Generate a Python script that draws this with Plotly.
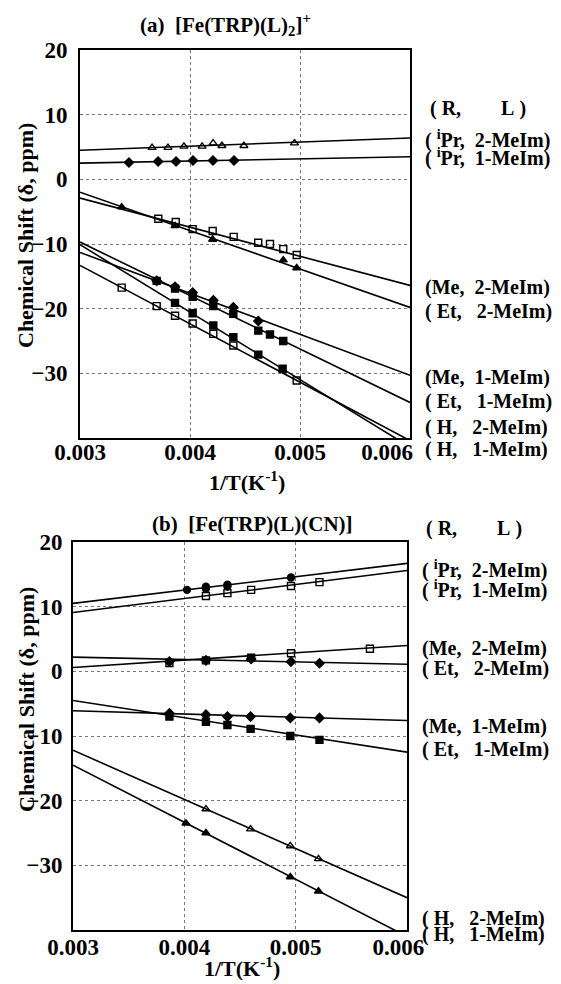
import plotly.graph_objects as go

# The page shows the figure with the browser's default 8px body margin,
# so the figure is made 8px smaller and reference pixels are shifted by 8.
OFF = 8
W, H = 561 - OFF, 984 - OFF
FONT = "Liberation Serif"

# ---------------- Panel (a): [Fe(TRP)(L)2]+ ----------------
a_labels = ["(\u00a0<sup>i</sup>Pr,\u00a0\u00a02-MeIm)", "(\u00a0<sup>i</sup>Pr,\u00a0\u00a01-MeIm)",
            "(Me,\u00a0\u00a02-MeIm)", "(\u00a0Et,\u00a0\u00a0\u00a02-MeIm)",
            "(Me,\u00a0\u00a01-MeIm)", "(\u00a0Et,\u00a0\u00a0\u00a01-MeIm)",
            "(\u00a0H,\u00a0\u00a0\u00a02-MeIm)", "(\u00a0H,\u00a0\u00a0\u00a01-MeIm)"]

a_iPr2_x = [0.003655, 0.00380, 0.003945, 0.00411, 0.00421, 0.00429, 0.00449, 0.00495]
a_iPr2_y = [4.9, 4.9, 5.1, 5.1, 5.6, 5.2, 5.2, 5.6]
a_iPr1_x = [0.003445, 0.00371, 0.003873, 0.004027, 0.004209, 0.00440]
a_iPr1_y = [2.6, 2.75, 2.75, 2.9, 2.9, 2.9]
a_Me2_x = [0.003712, 0.00387, 0.004024, 0.004206, 0.004397, 0.00462, 0.004727, 0.004848, 0.00497]
a_Me2_y = [-6.1, -6.6, -7.7, -8.0, -8.9, -9.8, -10.0, -10.8, -11.7]
a_Et2_x = [0.003379, 0.003864, 0.004206, 0.004848, 0.00497]
a_Et2_y = [-4.3, -7.2, -9.3, -12.5, -13.7]
a_Me1_x = [0.003697, 0.003864, 0.004024, 0.004212, 0.004394, 0.004621]
a_Me1_y = [-15.7, -16.6, -17.5, -18.7, -19.8, -21.9]
a_Et1_x = [0.003697, 0.003864, 0.004024, 0.004212, 0.004394, 0.004621, 0.004727, 0.004848]
a_Et1_y = [-15.7, -16.9, -18.15, -19.6, -20.8, -23.4, -24.0, -25.0]
a_H2_x = [0.003864, 0.004024, 0.004212, 0.004394, 0.004621, 0.004842]
a_H2_y = [-19.1, -20.7, -22.6, -24.4, -27.1, -29.3]
a_H1_x = [0.003379, 0.003697, 0.003864, 0.004024, 0.004212, 0.004394, 0.00497]
a_H1_y = [-16.75, -19.6, -21.1, -22.3, -23.9, -25.7, -31.1]

# fitted straight lines: value at x = 0.003 and at x = 0.006
fit_x = [0.003, 0.006]
a_fit_y0 = [4.5, 2.5, -2.9, -2.0, -11.3, -9.7, -10.1, -13.3]
a_fit_y1 = [6.4, 3.5, -16.4, -19.8, -30.3, -34.5, -41.4, -40.4]

# ---------------- Panel (b): [Fe(TRP)(L)(CN)] ----------------
b_iPr2_x = [0.004024, 0.004194, 0.004194, 0.004387, 0.004387, 0.004958]
b_iPr2_y = [12.6, 12.8, 13.1, 13.1, 13.4, 14.5]
b_iPr1_x = [0.004194, 0.004387, 0.00460, 0.004958, 0.005214]
b_iPr1_y = [11.65, 12.1, 12.6, 13.2, 13.8]
b_Me2_x = [0.003866, 0.004194, 0.00460, 0.004958, 0.005667]
b_Me2_y = [1.3, 1.7, 2.1, 2.8, 3.5]
b_Et2_x = [0.003866, 0.004194, 0.00460, 0.004958, 0.005214]
b_Et2_y = [1.5, 1.7, 1.9, 1.5, 1.25]
b_Me1_x = [0.003866, 0.004194, 0.004387, 0.004595, 0.004952, 0.005214]
b_Me1_y = [-6.5, -6.7, -7.0, -7.0, -7.2, -7.2]
b_Et1_x = [0.003866, 0.004194, 0.004387, 0.004595, 0.004952, 0.005214]
b_Et1_y = [-7.0, -7.8, -8.3, -8.9, -10.0, -10.6]
b_H2_x = [0.004194, 0.004595, 0.004952, 0.005205]
b_H2_y = [-21.3, -24.4, -27.0, -29.0]
b_H1_x = [0.004015, 0.004194, 0.004952, 0.005205]
b_H1_y = [-23.5, -25.0, -31.8, -34.0]

b_fit_y0 = [10.5, 9.1, 0.6, 2.2, -6.1, -4.5, -12.2, -14.5]
b_fit_y1 = [16.7, 15.6, 4.0, 1.1, -7.6, -12.5, -35.0, -41.0]

y_ticks = [20, 10, 0, -10, -20, -30]
x_ticks = [0.003, 0.004, 0.005, 0.006]
NB = "\u00a0"
a_x_ticktext = ["0.003", "0.004", "0.005", "0.006" + NB * 8]
b_x_ticktext = ["0.003", "0.004", "0.005", "0.006" + NB * 3]

a_series = [(a_iPr2_x, a_iPr2_y, "triangle-up-open"), (a_iPr1_x, a_iPr1_y, "diamond"),
            (a_Me2_x, a_Me2_y, "square-open"), (a_Et2_x, a_Et2_y, "triangle-up"),
            (a_Me1_x, a_Me1_y, "diamond"), (a_Et1_x, a_Et1_y, "square"),
            (a_H2_x, a_H2_y, "square"), (a_H1_x, a_H1_y, "square-open")]
b_series = [(b_iPr2_x, b_iPr2_y, "circle"), (b_iPr1_x, b_iPr1_y, "square-open"),
            (b_Me2_x, b_Me2_y, "square-open"), (b_Et2_x, b_Et2_y, "diamond"),
            (b_Me1_x, b_Me1_y, "diamond"), (b_Et1_x, b_Et1_y, "square"),
            (b_H2_x, b_H2_y, "triangle-up-open"), (b_H1_x, b_H1_y, "triangle-up")]

fig = go.Figure()
for series, y0s, y1s, xa, ya in [(a_series, a_fit_y0, a_fit_y1, "x", "y"),
                                  (b_series, b_fit_y0, b_fit_y1, "x2", "y2")]:
    for (xs, ys, sym), y0, y1 in zip(series, y0s, y1s):
        fig.add_trace(go.Scatter(x=fit_x, y=[y0, y1], mode="lines",
                                 line=dict(color="black", width=1.6),
                                 xaxis=xa, yaxis=ya, showlegend=False, hoverinfo="skip"))
        fig.add_trace(go.Scatter(x=xs, y=ys, mode="markers",
                                 marker=dict(symbol=sym, size=7, color="black",
                                             line=dict(color="black", width=1.4)),
                                 xaxis=xa, yaxis=ya, showlegend=False))

def px_x(v):
    return (v - OFF) / W

def px_y(v):
    return 1 - (v - OFF) / H

tickfont = dict(family=FONT, size=23, color="black", weight="bold")
axis_common = dict(showline=True, linecolor="black", linewidth=2, mirror=True,
                   showgrid=True, gridcolor="#777", gridwidth=1, griddash="dot",
                   zeroline=False, ticks="", tickfont=tickfont, automargin=False)

fig.update_layout(
    width=W, height=H, margin=dict(l=0, r=0, t=0, b=0, autoexpand=False),
    paper_bgcolor="white", plot_bgcolor="white",
    xaxis=dict(domain=[px_x(80), px_x(410)], range=[0.003, 0.006], tickvals=x_ticks,
               ticktext=a_x_ticktext, anchor="y", ticklabelstandoff=-8, **axis_common),
    yaxis=dict(domain=[px_y(438), px_y(50)], range=[-40, 20], tickvals=y_ticks,
               anchor="x", ticklabelstandoff=6, **axis_common),
    xaxis2=dict(domain=[px_x(73), px_x(407)], range=[0.003, 0.006], tickvals=x_ticks,
                ticktext=b_x_ticktext, anchor="y2", ticklabelstandoff=-5, **axis_common),
    yaxis2=dict(domain=[px_y(930), px_y(542)], range=[-40, 20], tickvals=y_ticks,
                anchor="x2", ticklabelstandoff=4, **axis_common),
)

ann = []
def text(x, y, s, size=20, xanchor="left", angle=0):
    ann.append(dict(x=px_x(x), y=px_y(y), xref="paper", yref="paper", text=s,
                    showarrow=False, xanchor=xanchor, yanchor="middle", textangle=angle,
                    font=dict(family=FONT, size=size, color="black", weight="bold")))

# titles
text(225, 24, "(a)\u00a0\u00a0[Fe(TRP)(L)<sub>2</sub>]<sup>+</sup>", size=21, xanchor="center")
text(252, 524, "(b)\u00a0\u00a0[Fe(TRP)(L)(CN)]", size=21, xanchor="center")
# axis titles
text(247, 481, "1/T(K<sup>-1</sup>)", size=22, xanchor="center")
text(242, 967, "1/T(K<sup>-1</sup>)", size=22, xanchor="center")
text(26, 236, "Chemical Shift (\u03b4, ppm)", size=22, xanchor="center", angle=-90)
text(26, 700, "Chemical Shift (\u03b4, ppm)", size=22, xanchor="center", angle=-90)

# right-hand labels
a_label_y = [139, 158, 287, 311, 377, 401, 427, 450]
b_label_y = [569, 589, 648, 668, 726, 749, 918, 934]
text(428, 108, "(\u00a0R,\u00a0\u00a0\u00a0\u00a0\u00a0\u00a0\u00a0\u00a0L\u00a0)")
text(424, 528, "(\u00a0R,\u00a0\u00a0\u00a0\u00a0\u00a0\u00a0\u00a0\u00a0L\u00a0)")
for lab, yy in zip(a_labels, a_label_y):
    text(423, yy, lab)
for lab, yy in zip(a_labels, b_label_y):
    text(420, yy, lab)

fig.update_layout(annotations=ann)
fig.write_html("out.html")
